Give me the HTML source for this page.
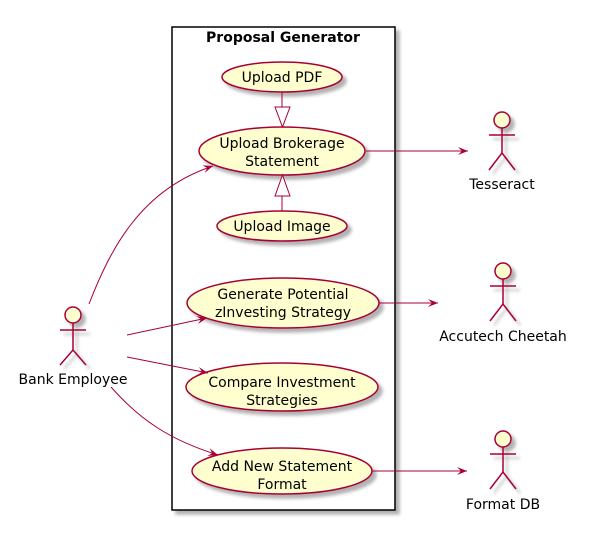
<!DOCTYPE html>
<html><head><meta charset="utf-8"><style>
html,body{margin:0;padding:0;background:#fff;}
svg{display:block;}
text{font-family:"DejaVu Sans","Liberation Sans",sans-serif;font-size:14px;fill:#000;}
</style></head><body>
<svg width="604" height="535" viewBox="0 0 604 535" xmlns="http://www.w3.org/2000/svg">
<defs>
<filter id="sh" x="-20%" y="-20%" width="150%" height="150%">
<feGaussianBlur in="SourceAlpha" stdDeviation="1.5"/>
<feOffset dx="4" dy="4" result="b"/>
<feFlood flood-color="#000" flood-opacity="0.3"/>
<feComposite in2="b" operator="in"/>
<feMerge><feMergeNode/><feMergeNode in="SourceGraphic"/></feMerge>
</filter>
<marker id="ar" viewBox="0 0 10 10" refX="10" refY="5" markerWidth="10" markerHeight="10" orient="auto" markerUnits="userSpaceOnUse">
<path d="M0,1 L10,5 L0,9 L4,5 Z" fill="#A80036"/>
</marker>
</defs>
<rect x="172" y="27" width="223" height="483" fill="#fff" stroke="#000" stroke-width="1.5" filter="url(#sh)"/>
<text x="283" y="42" text-anchor="middle" font-weight="bold">Proposal Generator</text>

<g fill="#FEFECE" stroke="#A80036" stroke-width="1.5" filter="url(#sh)">
<ellipse cx="282" cy="77" rx="60" ry="15"/>
<ellipse cx="282" cy="151" rx="83" ry="24"/>
<ellipse cx="282" cy="226" rx="65" ry="15"/>
<ellipse cx="283" cy="303" rx="96" ry="25"/>
<ellipse cx="282" cy="387" rx="96" ry="24"/>
<ellipse cx="282" cy="471" rx="90" ry="23"/>
</g>
<g text-anchor="middle">
<text x="282" y="82">Upload PDF</text>
<text x="282" y="148">Upload Brokerage</text>
<text x="282" y="166">Statement</text>
<text x="282" y="231">Upload Image</text>
<text x="283" y="299">Generate Potential</text>
<text x="283" y="317">zInvesting Strategy</text>
<text x="282" y="387">Compare Investment</text>
<text x="282" y="405">Strategies</text>
<text x="282" y="471">Add New Statement</text>
<text x="282" y="489">Format</text>
</g>

<g stroke="#A80036" stroke-width="1" fill="none">
<line x1="282" y1="92" x2="282" y2="107"/>
<path d="M275,107 L290,107 L282.5,127 Z" fill="#fff"/>
<line x1="282" y1="211" x2="282" y2="196"/>
<path d="M275,196 L290,196 L282.5,175 Z" fill="#fff"/>
<line x1="366" y1="151" x2="468" y2="151" marker-end="url(#ar)"/>
<line x1="379" y1="303" x2="438" y2="303" marker-end="url(#ar)"/>
<line x1="372" y1="471" x2="467" y2="471" marker-end="url(#ar)"/>
<path d="M89,304 C110,250 140,190 213,166" marker-end="url(#ar)"/>
<line x1="127" y1="335" x2="207" y2="318" marker-end="url(#ar)"/>
<line x1="127" y1="357" x2="208" y2="373" marker-end="url(#ar)"/>
<path d="M111,387 C140,420 170,440 218,455" marker-end="url(#ar)"/>
</g>

<g stroke="#A80036" stroke-width="1.5" fill="none" filter="url(#sh)">
<g transform="translate(73,315)">
<circle cx="0" cy="0" r="8" fill="#FEFECE"/>
<line x1="0" y1="8" x2="0" y2="35"/><line x1="-13" y1="15" x2="13" y2="15"/>
<path d="M-13,50 L0,35 L13,50"/>
</g>
<g transform="translate(502,120)">
<circle cx="0" cy="0" r="8" fill="#FEFECE"/>
<line x1="0" y1="8" x2="0" y2="33"/><line x1="-13" y1="15" x2="13" y2="15"/>
<path d="M-13,50 L0,33 L13,50"/>
</g>
<g transform="translate(503,271)">
<circle cx="0" cy="0" r="8" fill="#FEFECE"/>
<line x1="0" y1="8" x2="0" y2="33"/><line x1="-13" y1="15" x2="13" y2="15"/>
<path d="M-13,50 L0,33 L13,50"/>
</g>
<g transform="translate(503,439)">
<circle cx="0" cy="0" r="8" fill="#FEFECE"/>
<line x1="0" y1="8" x2="0" y2="33"/><line x1="-13" y1="15" x2="13" y2="15"/>
<path d="M-13,50 L0,33 L13,50"/>
</g>
</g>
<g text-anchor="middle">
<text x="73" y="384">Bank Employee</text>
<text x="502" y="189">Tesseract</text>
<text x="503" y="341">Accutech Cheetah</text>
<text x="503" y="509">Format DB</text>
</g>
</svg>
</body></html>
